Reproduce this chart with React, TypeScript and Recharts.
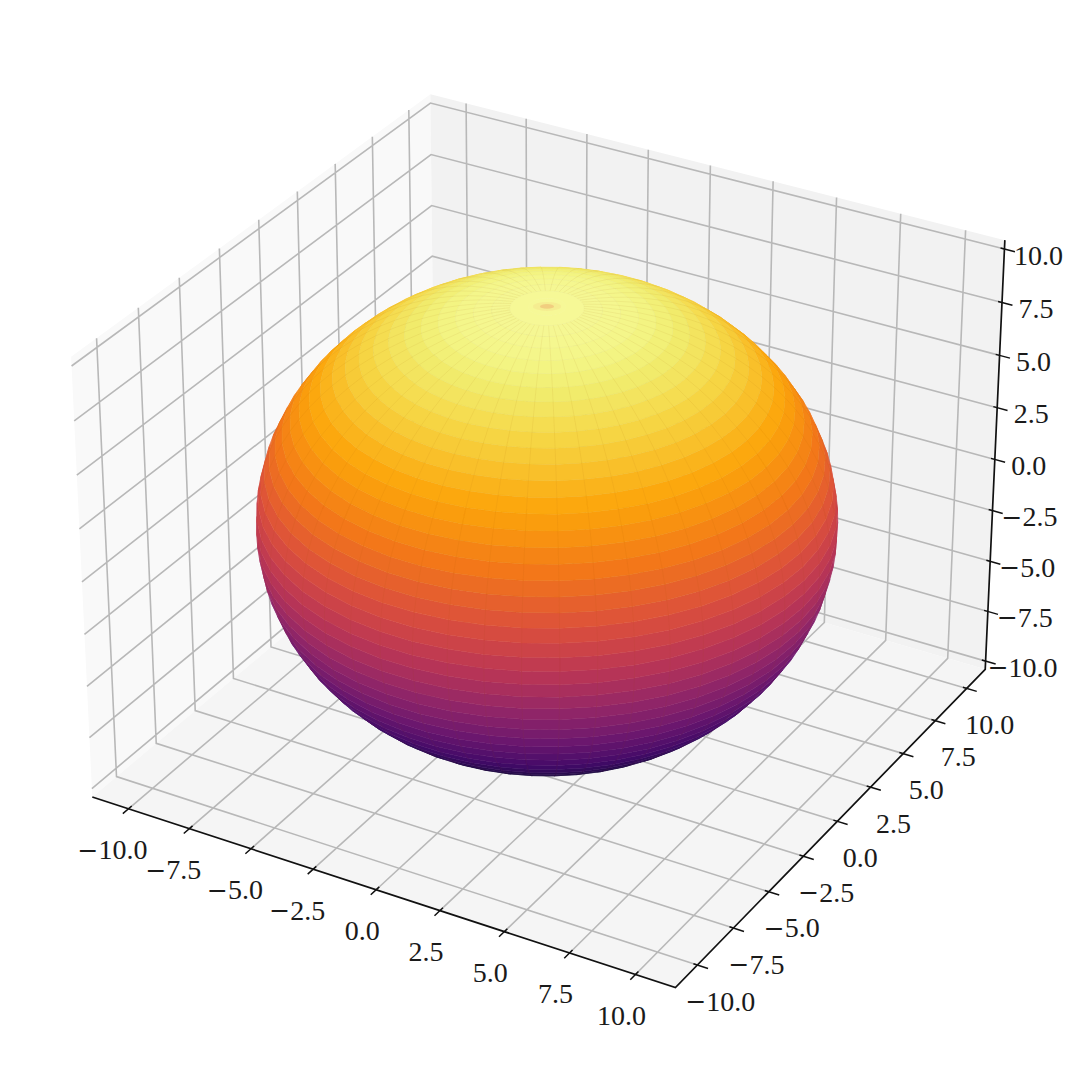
import React from "react";
import { LineChart, Line, XAxis, YAxis } from "recharts";

const W = 1080, H = 1067;
const tickValues = [-10, -7.5, -5, -2.5, 0, 2.5, 5, 7.5, 10];
const tickLabels = ["\u221210.0", "\u22127.5", "\u22125.0", "\u22122.5", "0.0", "2.5", "5.0", "7.5", "10.0"];
const paneEdgeXY = 11.5;
const paneEdgeZ = 10.4167;
const radius = 10;
const colatitudes = [0,3.6,7.2,10.8,14.4,18,21.6,25.2,28.8,32.4,36,39.6,43.2,46.8,50.4,54,57.6,61.2,64.8,68.4,72,75.6,79.2,82.8,86.4,90,93.6,97.2,100.8,104.4,108,111.6,115.2,118.8,122.4,126,129.6,133.2,136.8,140.4,144,147.6,151.2,154.8,158.4,162,165.6,169.2,172.8,176.4,180];
const longitudes = [0,7.2,14.4,21.6,28.8,36,43.2,50.4,57.6,64.8,72,79.2,86.4,93.6,100.8,108,115.2,122.4,129.6,136.8,144,151.2,158.4,165.6,172.8,180,187.2,194.4,201.6,208.8,216,223.2,230.4,237.6,244.8,252,259.2,266.4,273.6,280.8,288,295.2,302.4,309.6,316.8,324,331.2,338.4,345.6,352.8,360];
const infernoStops = [0,0.1,0.2,0.3,0.4,0.5,0.6,0.7,0.8,0.9,0.95,0.975,1];
const infernoColors = ["#000004","#160b39","#420a68","#6a176e","#932667","#bc3754","#dd513a","#f37819","#fca50a","#f6d746","#f1ed6f","#f3f586","#f6f897"];

// matplotlib's default 3D view: elev 30, azim -60, box aspect 4:4:3
const BX = 0.5952 / paneEdgeXY * 10, BZ = 0.4286, DIST = 10;
const U = [0.866, 0.5, 0], V = [-0.25, 0.433, 0.866], N = [0.433, -0.75, 0.5];
const CX = 547, SX = 5612, CY = 519.5, SY = 5618;
const dot3 = (a: number[], b: number[]) => a[0]*b[0] + a[1]*b[1] + a[2]*b[2];
const box = (x: number, y: number, z: number) => [x/10*BX, y/10*BX, z/10*BZ];
const project = (x: number, y: number, z: number) => {
  const p = box(x, y, z);
  const d = DIST - dot3(p, N);
  return { x: CX + SX*dot3(p, U)/d, y: CY - SY*dot3(p, V)/d };
};
const gap = { x: 0, y: null as number | null };

const hex = (c: string) => [1,3,5].map(i => parseInt(c.slice(i,i+2),16));
const colorAt = (t: number) => {
  const v = Math.max(0, Math.min(0.99999, t));
  let i = 0;
  while (infernoStops[i+1] <= v) i++;
  const f = (v-infernoStops[i])/(infernoStops[i+1]-infernoStops[i]);
  const a = hex(infernoColors[i]), b = hex(infernoColors[i+1]);
  return `rgb(${a.map((c,k)=>Math.round(c+(b[k]-c)*f)).join(",")})`;
};
const rad = (d: number) => d*Math.PI/180;
const surf = (colat: number, lon: number) => [
  radius*Math.sin(rad(colat))*Math.cos(rad(lon)),
  radius*Math.sin(rad(colat))*Math.sin(rad(lon)),
  radius*Math.cos(rad(colat)),
];
const visible = (s: number[]) => {
  const p = box(s[0], s[1], s[2]);
  const n = [p[0]/(BX*BX), p[1]/(BX*BX), p[2]/(BZ*BZ)];
  const e = [N[0]*DIST-p[0], N[1]*DIST-p[1], N[2]*DIST-p[2]];
  return dot3(n, e) > 0;
};

const bandMean = (i: number) => radius*(Math.cos(rad(colatitudes[i]))+Math.cos(rad(colatitudes[i+1])))/2;
const zMin = bandMean(colatitudes.length-2), zMax = bandMean(0);

const bands = colatitudes.slice(0,-1).map((c0, i) => {
  const c1 = colatitudes[i+1];
  const pts: {x:number;y:number}[] = [];
  longitudes.slice(0,-1).forEach((l0, j) => {
    const l1 = longitudes[j+1];
    const corners = [surf(c0,l0), surf(c0,l1), surf(c1,l1), surf(c1,l0)];
    if (corners.some(visible)) corners.forEach(s => pts.push(project(s[0],s[1],s[2])));
  });
  return { id: i, pts, color: colorAt((bandMean(i)-zMin)/(zMax-zMin)) };
}).reverse();

const pushSeam = (out: any[], s: number[]) => {
  if (visible(s)) out.push(project(s[0],s[1],s[2]));
  else if (out.length) out.push(gap);
};
const meridianSeams: any[] = [];
longitudes.slice(0,-1).forEach(l => {
  colatitudes.slice(2,-1).forEach(c => pushSeam(meridianSeams, surf(c,l)));
  if (meridianSeams.length) meridianSeams.push(gap);
});
const ringSeams: any[] = [];
colatitudes.slice(2,22).forEach(c => {
  longitudes.forEach(l => pushSeam(ringSeams, surf(c,l)));
  if (ringSeams.length) ringSeams.push(gap);
});

const E = paneEdgeXY, EZ = paneEdgeZ;
const pane = (c: number[][]) => c.map(p => project(p[0],p[1],p[2]));
const paneLeft = pane([[-E,-E,-EZ],[-E,E,-EZ],[-E,E,EZ],[-E,-E,EZ]]);
const paneBack = pane([[-E,E,-EZ],[E,E,-EZ],[E,E,EZ],[-E,E,EZ]]);
const paneFloor = pane([[-E,-E,-EZ],[E,-E,-EZ],[E,E,-EZ],[-E,E,-EZ]]);

const gridData: any[] = [];
tickValues.forEach(t => {
  gridData.push(project(t,-E,-EZ), project(t,E,-EZ), project(t,E,EZ), gap);
  gridData.push(project(E,t,-EZ), project(-E,t,-EZ), project(-E,t,EZ), gap);
  gridData.push(project(-E,-E,t), project(-E,E,t), project(E,E,t), gap);
});
const axisData = [
  project(-E,-E,-EZ), project(E,-E,-EZ), project(E,E,-EZ), project(E,E,EZ),
];
const tickData: any[] = [];
tickValues.forEach(t => {
  tickData.push(project(t,-E+0.2,-EZ), project(t,-E-0.35,-EZ), gap);
  tickData.push(project(E-0.15,t,-EZ), project(E+0.4,t,-EZ), gap);
  tickData.push(project(E-0.15,E,t), project(E+0.4,E,t), gap);
});
const xLabels = tickValues.map((t,i) => { const p = project(t,-E,-EZ); return { x:p.x-(t<0?16:14), y:p.y+41, text:tickLabels[i] }; });
const yLabels = tickValues.map((t,i) => { const p = project(E,t,-EZ); return { x:p.x+23, y:p.y+36, text:tickLabels[i] }; });
const zLabels = tickValues.map((t,i) => { const p = project(E,E,t); return { x:p.x+(t<0?37:34), y:p.y+6, text:tickLabels[i] }; });
const pole = [project(0,0,radius)];

const polygonDot = (fill: string) => (props: any) => {
  if (props.index !== 0) return <g key={props.index} />;
  const d = `M${props.points.map((p: any) => `${p.x.toFixed(2)},${p.y.toFixed(2)}`).join("L")}Z`;
  return <path key="poly" d={d} fill={fill} stroke="none" />;
};
const quadsDot = (fill: string) => (props: any) => {
  if (props.index !== 0) return <g key={props.index} />;
  const pts = props.points;
  let d = "";
  for (let i = 0; i + 3 < pts.length; i += 4) {
    d += `M${pts[i].x.toFixed(2)},${pts[i].y.toFixed(2)}L${pts[i+1].x.toFixed(2)},${pts[i+1].y.toFixed(2)}L${pts[i+2].x.toFixed(2)},${pts[i+2].y.toFixed(2)}L${pts[i+3].x.toFixed(2)},${pts[i+3].y.toFixed(2)}Z`;
  }
  return <path key="band" d={d} fill={fill} stroke={fill} strokeWidth={0.5} />;
};
const strokeDot = (stroke: string, width: number, opacity = 1) => (props: any) => {
  if (props.index !== 0) return <g key={props.index} />;
  let d = "", pen = false;
  props.points.forEach((p: any) => {
    if (p.y == null || p.payload?.y == null) { pen = false; return; }
    d += `${pen ? "L" : "M"}${p.x.toFixed(2)},${p.y.toFixed(2)}`;
    pen = true;
  });
  return <path key="lines" d={d} fill="none" stroke={stroke} strokeWidth={width} strokeOpacity={opacity} />;
};
const textDot = (props: any) => {
  const text: string = props.payload.text;
  const neg = text.startsWith("\u2212");
  return (
    <text key={props.index} x={props.cx} y={props.cy} textAnchor="middle" dominantBaseline="central"
      fontFamily="'Liberation Serif', serif" fontSize={28} fill="#1a1a1a">
      {neg ? <tspan fontFamily="'DejaVu Serif', serif" fontSize={25} fontWeight={300}>{"\u2212"}</tspan> : null}
      {neg ? text.slice(1) : text}
    </text>
  );
};
const poleDot = (props: any) => (
  <g key="pole">
    <ellipse cx={props.cx} cy={props.cy} rx={14} ry={4.5} fill="#f0b070" opacity={0.15} />
    <ellipse cx={props.cx} cy={props.cy} rx={7} ry={2.4} fill="#e8885a" opacity={0.3} />
  </g>
);

const line = (key: string, data: any[], dot: any) => (
  <Line key={key} data={data} dataKey="y" stroke="none" isAnimationActive={false} legendType="none" activeDot={false} dot={dot} />
);

export default function App() {
  return (
    <div style={{ position: "absolute", left: 0, top: 0, width: W, height: H, background: "#fff" }}>
      <LineChart width={W} height={H} margin={{ top: 0, right: 0, bottom: 0, left: 0 }}>
        <XAxis dataKey="x" type="number" domain={[0, W]} hide />
        <YAxis type="number" domain={[0, H]} reversed hide />
        {line("pane-left", paneLeft, polygonDot("#f9f9f9"))}
        {line("pane-back", paneBack, polygonDot("#f2f2f2"))}
        {line("pane-floor", paneFloor, polygonDot("#f5f5f5"))}
        {line("grid", gridData, strokeDot("#b8b8b8", 1.6))}
        {line("axes", axisData, strokeDot("#111", 1.7))}
        {line("ticks", tickData, strokeDot("#111", 1.5))}
        {line("x-labels", xLabels, textDot)}
        {line("y-labels", yLabels, textDot)}
        {line("z-labels", zLabels, textDot)}
        {bands.map(b => line(`band-${b.id}`, b.pts, quadsDot(b.color)))}
        {line("meridians", meridianSeams, strokeDot("#9a5a10", 0.8, 0.09))}
        {line("rings", ringSeams, strokeDot("#9a7a10", 0.7, 0.05))}
        {line("pole", pole, poleDot)}
      </LineChart>
    </div>
  );
}
